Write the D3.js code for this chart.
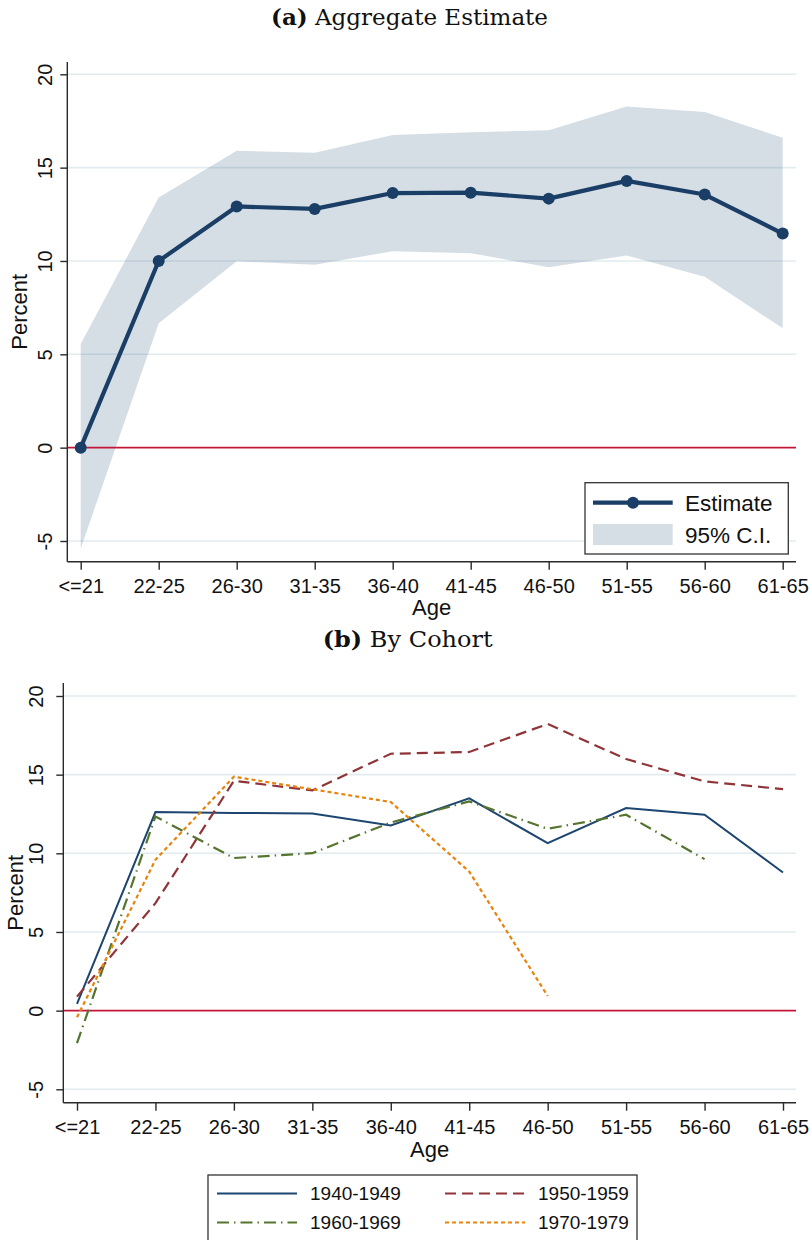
<!DOCTYPE html>
<html>
<head>
<meta charset="utf-8">
<script src="https://cdn.jsdelivr.net/npm/d3@7"></script>
<style>
  html, body { margin: 0; padding: 0; background: #fff; }
  svg { display: block; }
</style>
</head>
<body>
<svg id="chart" width="811" height="1240"></svg>
<script>
// Age bins shared by both panels
const ageGroups = ["<=21", "22-25", "26-30", "31-35", "36-40", "41-45", "46-50", "51-55", "56-60", "61-65"];
const yTicks = [-5, 0, 5, 10, 15, 20];

// Panel (a): aggregate estimate with 95% confidence band
const estimate = [0, 10.0, 12.92, 12.79, 13.64, 13.66, 13.34, 14.29, 13.56, 11.47];
const ciUpper  = [5.55, 13.4, 15.9, 15.8, 16.75, 16.9, 17.0, 18.27, 17.98, 16.6];
const ciLower  = [-5.4, 6.66, 9.98, 9.8, 10.52, 10.42, 9.66, 10.3, 9.15, 6.4];

// Panel (b): estimates by birth cohort (null = not observed)
const cohortNames = ["1940-1949", "1950-1959", "1960-1969", "1970-1979"];
const cohort1940 = [0.43, 12.62, 12.57, 12.53, 11.77, 13.49, 10.65, 12.88, 12.45, 8.78];
const cohort1950 = [0.89, 6.83, 14.61, 14.0, 16.33, 16.44, 18.22, 15.99, 14.57, 14.08];
const cohort1960 = [-2.07, 12.34, 9.7, 10.01, 11.96, 13.3, 11.56, 12.45, 9.63, null];
const cohort1970 = [-0.42, 9.59, 14.87, 14.07, 13.26, 8.84, 0.93, null, null, null];

const svg = d3.select("#chart");
const sans = "'Liberation Sans', Arial, Helvetica, sans-serif";
const serif = "'DejaVu Serif', 'Liberation Serif', serif";

const navy = "#1a3e66";
const bandColor = "#1a476f";
const gridColor = "#e2ebf0";
const zeroColor = "#c3173a";
const axisColor = "#2a2a2a";

function title(cx, baseline, width, tag, rest) {
  const t = svg.append("text")
    .attr("x", cx).attr("y", baseline)
    .attr("text-anchor", "middle")
    .attr("font-family", serif)
    .attr("font-size", 22)
    .attr("fill", "#111")
    .attr("textLength", width)
    .attr("lengthAdjust", "spacingAndGlyphs");
  t.append("tspan").attr("font-weight", "bold").text(tag);
  t.append("tspan").text(" " + rest);
}

function frame(cfg) {
  const g = svg.append("g");
  const x = d3.scalePoint().domain(ageGroups).range([cfg.x0, cfg.x1]);
  const y = d3.scaleLinear().domain([-5, 20]).range([cfg.yMinus5, cfg.y20]);

  // horizontal gridlines
  g.append("g").selectAll("line")
    .data(yTicks.filter(d => d !== 0))
    .join("line")
    .attr("x1", cfg.axisX).attr("x2", cfg.right)
    .attr("y1", d => y(d)).attr("y2", d => y(d))
    .attr("stroke", gridColor).attr("stroke-width", 1.6);

  // layer for the plotted marks, above the grid and below the axes
  const plot = g.append("g");

  // y axis
  const ya = g.append("g")
    .attr("transform", `translate(${cfg.axisX},0)`)
    .call(d3.axisLeft(y).tickValues(yTicks).tickFormat(d => String(d)).tickSize(7).tickSizeOuter(0));
  ya.select(".domain").attr("d", `M0,${cfg.axisTop}V${cfg.axisBottom}`)
    .attr("stroke", axisColor).attr("stroke-width", 1.4);
  ya.selectAll(".tick line").attr("stroke", axisColor).attr("stroke-width", 1.4);
  ya.selectAll(".tick text")
    .attr("x", 0).attr("dy", "0.36em")
    .attr("text-anchor", "middle")
    .attr("transform", `translate(${cfg.yLabelX - cfg.axisX},0) rotate(-90)`)
    .attr("font-family", sans).attr("font-size", 20).attr("fill", "#111");

  // x axis
  const xa = g.append("g")
    .attr("transform", `translate(0,${cfg.axisBottom})`)
    .call(d3.axisBottom(x).tickSize(8).tickSizeOuter(0).tickPadding(9));
  xa.select(".domain").attr("d", `M${cfg.axisX},0H${cfg.right}`)
    .attr("stroke", axisColor).attr("stroke-width", 1.4);
  xa.selectAll(".tick line").attr("stroke", axisColor).attr("stroke-width", 1.4);
  xa.selectAll(".tick text")
    .attr("font-family", sans).attr("font-size", 20).attr("fill", "#111");

  // axis titles
  g.append("text")
    .attr("transform", `translate(${cfg.percentX},${(cfg.axisTop + cfg.axisBottom) / 2}) rotate(-90)`)
    .attr("text-anchor", "middle").attr("dy", "0.36em")
    .attr("font-family", sans).attr("font-size", 22).attr("fill", "#111")
    .text("Percent");
  g.append("text")
    .attr("x", (cfg.axisX + cfg.right) / 2).attr("y", cfg.ageBaseline)
    .attr("text-anchor", "middle")
    .attr("font-family", sans).attr("font-size", 22).attr("fill", "#111")
    .text("Age");

  return { g: plot, x, y };
}

// ---------- Panel (a) ----------
title(409.5, 25, 277, "(a)", "Aggregate Estimate");

const A = frame({
  x0: 80.7, x1: 782.7, yMinus5: 541, y20: 74.3,
  axisX: 67.3, right: 796, axisTop: 62, axisBottom: 561.7,
  yLabelX: 44.3, percentX: 19, ageBaseline: 615
});

const rowsA = ageGroups.map((a, i) => ({ age: a, est: estimate[i], lo: ciLower[i], hi: ciUpper[i] }));

A.g.append("path")
  .datum(rowsA)
  .attr("fill", bandColor).attr("fill-opacity", 0.18)
  .attr("d", d3.area().x(d => A.x(d.age)).y0(d => A.y(d.lo)).y1(d => A.y(d.hi)));

A.g.append("line")
  .attr("x1", 67.3).attr("x2", 796)
  .attr("y1", A.y(0)).attr("y2", A.y(0))
  .attr("stroke", zeroColor).attr("stroke-width", 1.8);

A.g.append("path")
  .datum(rowsA)
  .attr("fill", "none").attr("stroke", navy).attr("stroke-width", 4.2)
  .attr("stroke-linejoin", "round")
  .attr("d", d3.line().x(d => A.x(d.age)).y(d => A.y(d.est)));

A.g.append("g").selectAll("circle")
  .data(rowsA).join("circle")
  .attr("cx", d => A.x(d.age)).attr("cy", d => A.y(d.est))
  .attr("r", 6).attr("fill", navy);

// legend (a)
const legA = svg.append("g");
legA.append("rect").attr("x", 585).attr("y", 482.7).attr("width", 203.3).attr("height", 71.3)
  .attr("fill", "#fff").attr("stroke", "#333").attr("stroke-width", 1.3);
legA.append("line").attr("x1", 593).attr("x2", 672.7).attr("y1", 502.7).attr("y2", 502.7)
  .attr("stroke", navy).attr("stroke-width", 4.2);
legA.append("circle").attr("cx", 633).attr("cy", 502.7).attr("r", 6).attr("fill", navy);
legA.append("rect").attr("x", 593).attr("y", 524).attr("width", 79.7).attr("height", 21)
  .attr("fill", bandColor).attr("fill-opacity", 0.18);
legA.append("text").attr("x", 685).attr("y", 502.7).attr("dy", "0.36em")
  .attr("font-family", sans).attr("font-size", 22.5).attr("fill", "#111").text("Estimate");
legA.append("text").attr("x", 685).attr("y", 534.5).attr("dy", "0.36em")
  .attr("font-family", sans).attr("font-size", 22.5).attr("fill", "#111").text("95% C.I.");

// ---------- Panel (b) ----------
title(407.7, 647, 170, "(b)", "By Cohort");

const B = frame({
  x0: 77, x1: 783, yMinus5: 1089.3, y20: 696,
  axisX: 63.3, right: 796, axisTop: 683, axisBottom: 1102.7,
  yLabelX: 36, percentX: 15.5, ageBaseline: 1157
});

B.g.append("line")
  .attr("x1", 63.3).attr("x2", 796)
  .attr("y1", B.y(0)).attr("y2", B.y(0))
  .attr("stroke", zeroColor).attr("stroke-width", 1.8);

const cohortSeries = [
  { name: cohortNames[0], values: cohort1940, color: "#1c4570", dash: null, width: 2 },
  { name: cohortNames[1], values: cohort1950, color: "#8f3539", dash: "11,6", width: 2.2 },
  { name: cohortNames[2], values: cohort1960, color: "#55752f", dash: "12,5,1.5,5", width: 2.2 },
  { name: cohortNames[3], values: cohort1970, color: "#e8830c", dash: "4,3", width: 2.2 }
];

const lineB = d3.line()
  .defined(d => d.v !== null)
  .x(d => B.x(d.age)).y(d => B.y(d.v));

B.g.append("g").selectAll("path")
  .data(cohortSeries).join("path")
  .attr("fill", "none")
  .attr("stroke", s => s.color)
  .attr("stroke-width", s => s.width)
  .attr("stroke-dasharray", s => s.dash)
  .attr("d", s => lineB(ageGroups.map((a, i) => ({ age: a, v: s.values[i] }))));

// legend (b)
const legB = svg.append("g");
legB.append("rect").attr("x", 208).attr("y", 1175).attr("width", 429).attr("height", 80)
  .attr("fill", "#fff").attr("stroke", "#333").attr("stroke-width", 1.3);
const slots = [
  { sx: 217, tx: 310, y: 1193.5 },
  { sx: 445, tx: 538, y: 1193.5 },
  { sx: 217, tx: 310, y: 1222.5 },
  { sx: 445, tx: 538, y: 1222.5 }
];
cohortSeries.forEach((s, i) => {
  const p = slots[i];
  legB.append("line").attr("x1", p.sx).attr("x2", p.sx + 80).attr("y1", p.y).attr("y2", p.y)
    .attr("stroke", s.color).attr("stroke-width", s.width).attr("stroke-dasharray", s.dash);
  legB.append("text").attr("x", p.tx).attr("y", p.y).attr("dy", "0.36em")
    .attr("font-family", sans).attr("font-size", 19).attr("fill", "#111").text(s.name);
});
</script>
</body>
</html>
